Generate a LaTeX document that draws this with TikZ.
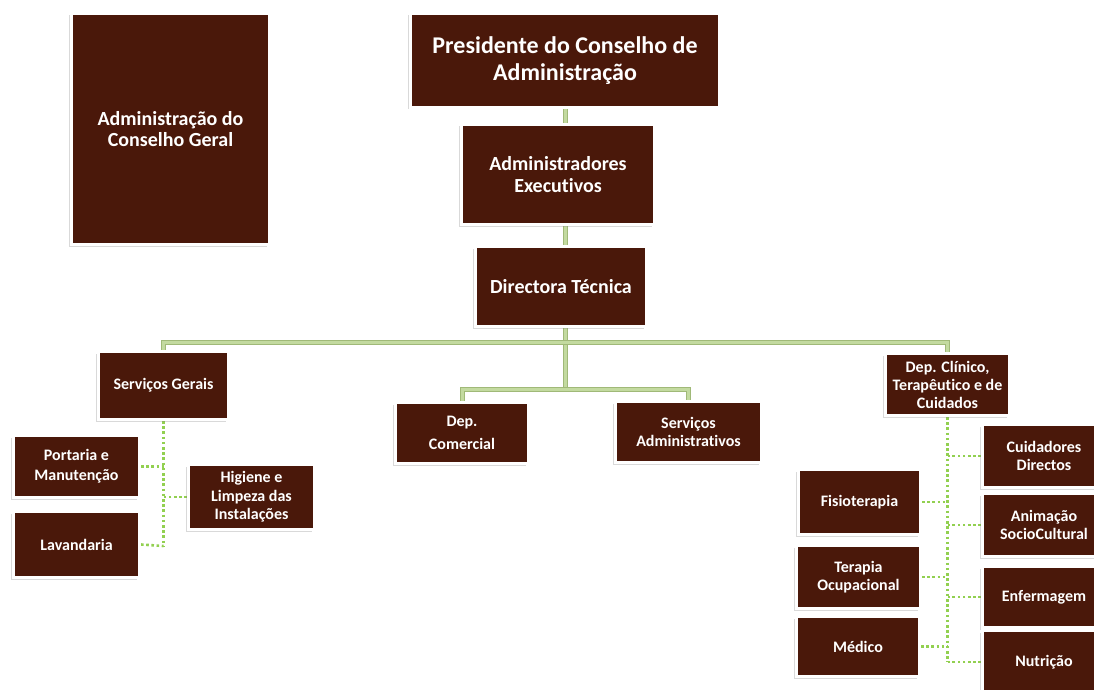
\documentclass[tikz,border=0pt]{standalone}
\usepackage{fontspec}
\setmainfont{Carlito}[Ligatures=NoCommon]
\usetikzlibrary{shadows,backgrounds}
\definecolor{boxfill}{RGB}{74,24,10}
\definecolor{lineout}{RGB}{160,185,120}
\definecolor{linein}{RGB}{195,218,160}
\definecolor{dotgreen}{RGB}{146,208,80}
\tikzset{
  orgbox/.style={rectangle, fill=boxfill, draw=white, line width=3pt,
    text=white, font=\bfseries\fontsize{16}{18.5}\selectfont, align=center,
    inner sep=1pt,
    drop shadow={shadow xshift=-3pt, shadow yshift=-2pt, opacity=0.3, fill=gray}},
  solidlink/.style={draw=lineout, line width=1pt, double=linein, double distance=3pt},
  dotlink/.style={draw=dotgreen, line width=2.6pt, dash pattern=on 2.6pt off 2.6pt},
}
\newcommand{\bx}[6]{\node[orgbox, minimum width=#4pt, minimum height=#5pt, #6] (#1) at (#2,#3)}
\begin{document}
\begin{tikzpicture}[x=1pt,y=-1pt]
\useasboundingbox (0,0) rectangle (1094,690);
\clip (0,0) rectangle (1094,690);
% top level
\bx{acg}{170.5}{129}{198}{231}{font=\bfseries\fontsize{20}{21}\selectfont}{Administração do\\Conselho Geral};
\bx{pres}{565}{60.5}{309}{94}{font=\bfseries\fontsize{24}{27}\selectfont}{Presidente do Conselho de\\Administração};
\bx{adm}{558}{174.5}{193}{100}{font=\bfseries\fontsize{20}{22}\selectfont}{Administradores\\Executivos};
\bx{dir}{561}{286.5}{171}{80}{font=\bfseries\fontsize{20}{22}\selectfont}{Directora Técnica};
% second level
\bx{sg}{163.5}{385.5}{130}{68}{}{Serviços Gerais};
\bx{com}{462}{433}{133}{61}{}{Dep.\\[5pt]Comercial};
\bx{sadm}{688.5}{432}{146}{61}{}{Serviços\\Administrativos};
\bx{clin}{947.5}{384.5}{124}{62}{font=\bfseries\fontsize{16}{18}\selectfont}{Dep. Clínico,\\Terapêutico e de\\Cuidados};
% under Servicos Gerais
\bx{port}{76.5}{466.5}{126}{62}{font=\bfseries\fontsize{16}{20}\selectfont}{Portaria e\\Manutenção};
\bx{hig}{251.5}{497}{126}{65}{}{Higiene e\\Limpeza das\\Instalações};
\bx{lav}{76.5}{544.5}{126}{66}{}{Lavandaria};
% under Dep. Clinico
\bx{cuid}{1044}{456}{123}{63}{}{Cuidadores\\Directos};
\bx{anim}{1044}{525}{123}{63}{}{Animação\\SocioCultural};
\bx{enf}{1044}{597}{123}{61}{}{Enfermagem};
\bx{nut}{1044}{662}{123}{63}{}{Nutrição};
\bx{fis}{859.5}{502}{122}{65}{}{Fisioterapia};
\bx{ter}{858.5}{577}{124}{63}{}{Terapia\\Ocupacional};
\bx{med}{858}{646.5}{123}{60}{}{Médico};
% coordinates
\coordinate (hub) at (565,342);
\coordinate (hub2) at (565,389);
\coordinate (sgend) at (163.5,546);
\coordinate (clinend) at (947.5,662);
\begin{pgfonlayer}{background}
\draw[solidlink] (pres.south) -- (hub2);
\draw[solidlink] (hub) -| (sg.north);
\draw[solidlink] (hub) -| (clin.north);
\draw[solidlink] (hub2) -| (com.north);
\draw[solidlink] (hub2) -| (sadm.north);
\draw[dotlink] (sg.south) -- (sgend);
\draw[dotlink] (port.east) -- (port.east -| sg.south);
\draw[dotlink] (hig.west) -- (hig.west -| sg.south);
\draw[dotlink] (lav.east) -- (sgend);
\draw[dotlink] (clin.south) -- (clinend);
\draw[dotlink] (cuid.west) -- (cuid.west -| clin.south);
\draw[dotlink] (anim.west) -- (anim.west -| clin.south);
\draw[dotlink] (enf.west) -- (enf.west -| clin.south);
\draw[dotlink] (nut.west) -- (clinend);
\draw[dotlink] (fis.east) -- (fis.east -| clin.south);
\draw[dotlink] (ter.east) -- (ter.east -| clin.south);
\draw[dotlink] (med.east) -- (med.east -| clin.south);
\end{pgfonlayer}
\end{tikzpicture}
\end{document}
